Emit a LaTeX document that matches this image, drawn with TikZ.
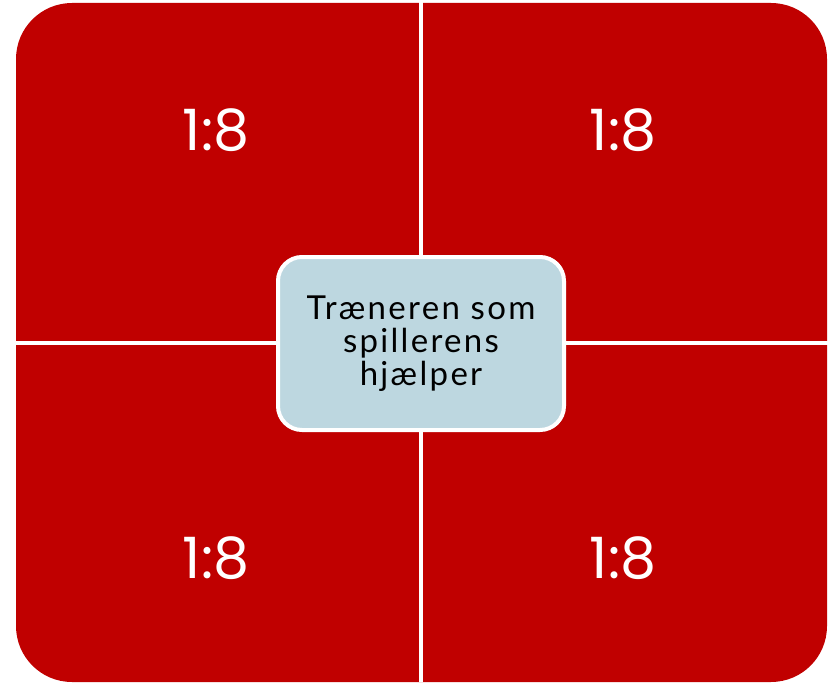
\documentclass[tikz,border=0pt]{standalone}
\usepackage{fontspec}
\setmainfont{Lato}
\newfontfamily\numfont{Poppins}
\newfontfamily\hubfont[LetterSpace=7]{Lato}
\usetikzlibrary{positioning}

\definecolor{quadred}{RGB}{192,0,0}
\definecolor{hubblue}{RGB}{189,215,224}

\begin{document}
\begin{tikzpicture}[
  x=1pt, y=-1pt,
  ratio/.style={font=\numfont\fontsize{57}{60}\selectfont, text=white, inner sep=0pt},
  hub/.style={rectangle, draw=white, line width=4pt, rounded corners=24pt, fill=hubblue,
    minimum width=286pt, minimum height=173pt, align=center, font=\hubfont\fontsize{33}{33}\selectfont},
  gap/.style={white, line width=4pt}
]
  \useasboundingbox (0,0) rectangle (829,682);
  % red field with rounded outer corners
  \fill[quadred, rounded corners=56pt] (16,3) rectangle (827,682);

  % cross between the four quadrants
  \coordinate (ctop) at (421,0);
  \coordinate (cbot) at (421,682);
  \coordinate (cleft) at (16,343);
  \coordinate (cright) at (829,343);
  \draw[gap] (ctop) -- (cbot);
  \draw[gap] (cleft) -- (cright);

  % ratios in each quadrant
  \node[ratio] (tl) at (216,130) {1:8};
  \node[ratio] (tr) at (623,130) {1:8};
  \node[ratio] (bl) at (216,558) {1:8};
  \node[ratio] (br) at (623,558) {1:8};

  % centre box
  \node[hub] (hub) at (421,343.5) {Træneren som\\spillerens\\hjælper};
\end{tikzpicture}
\end{document}
